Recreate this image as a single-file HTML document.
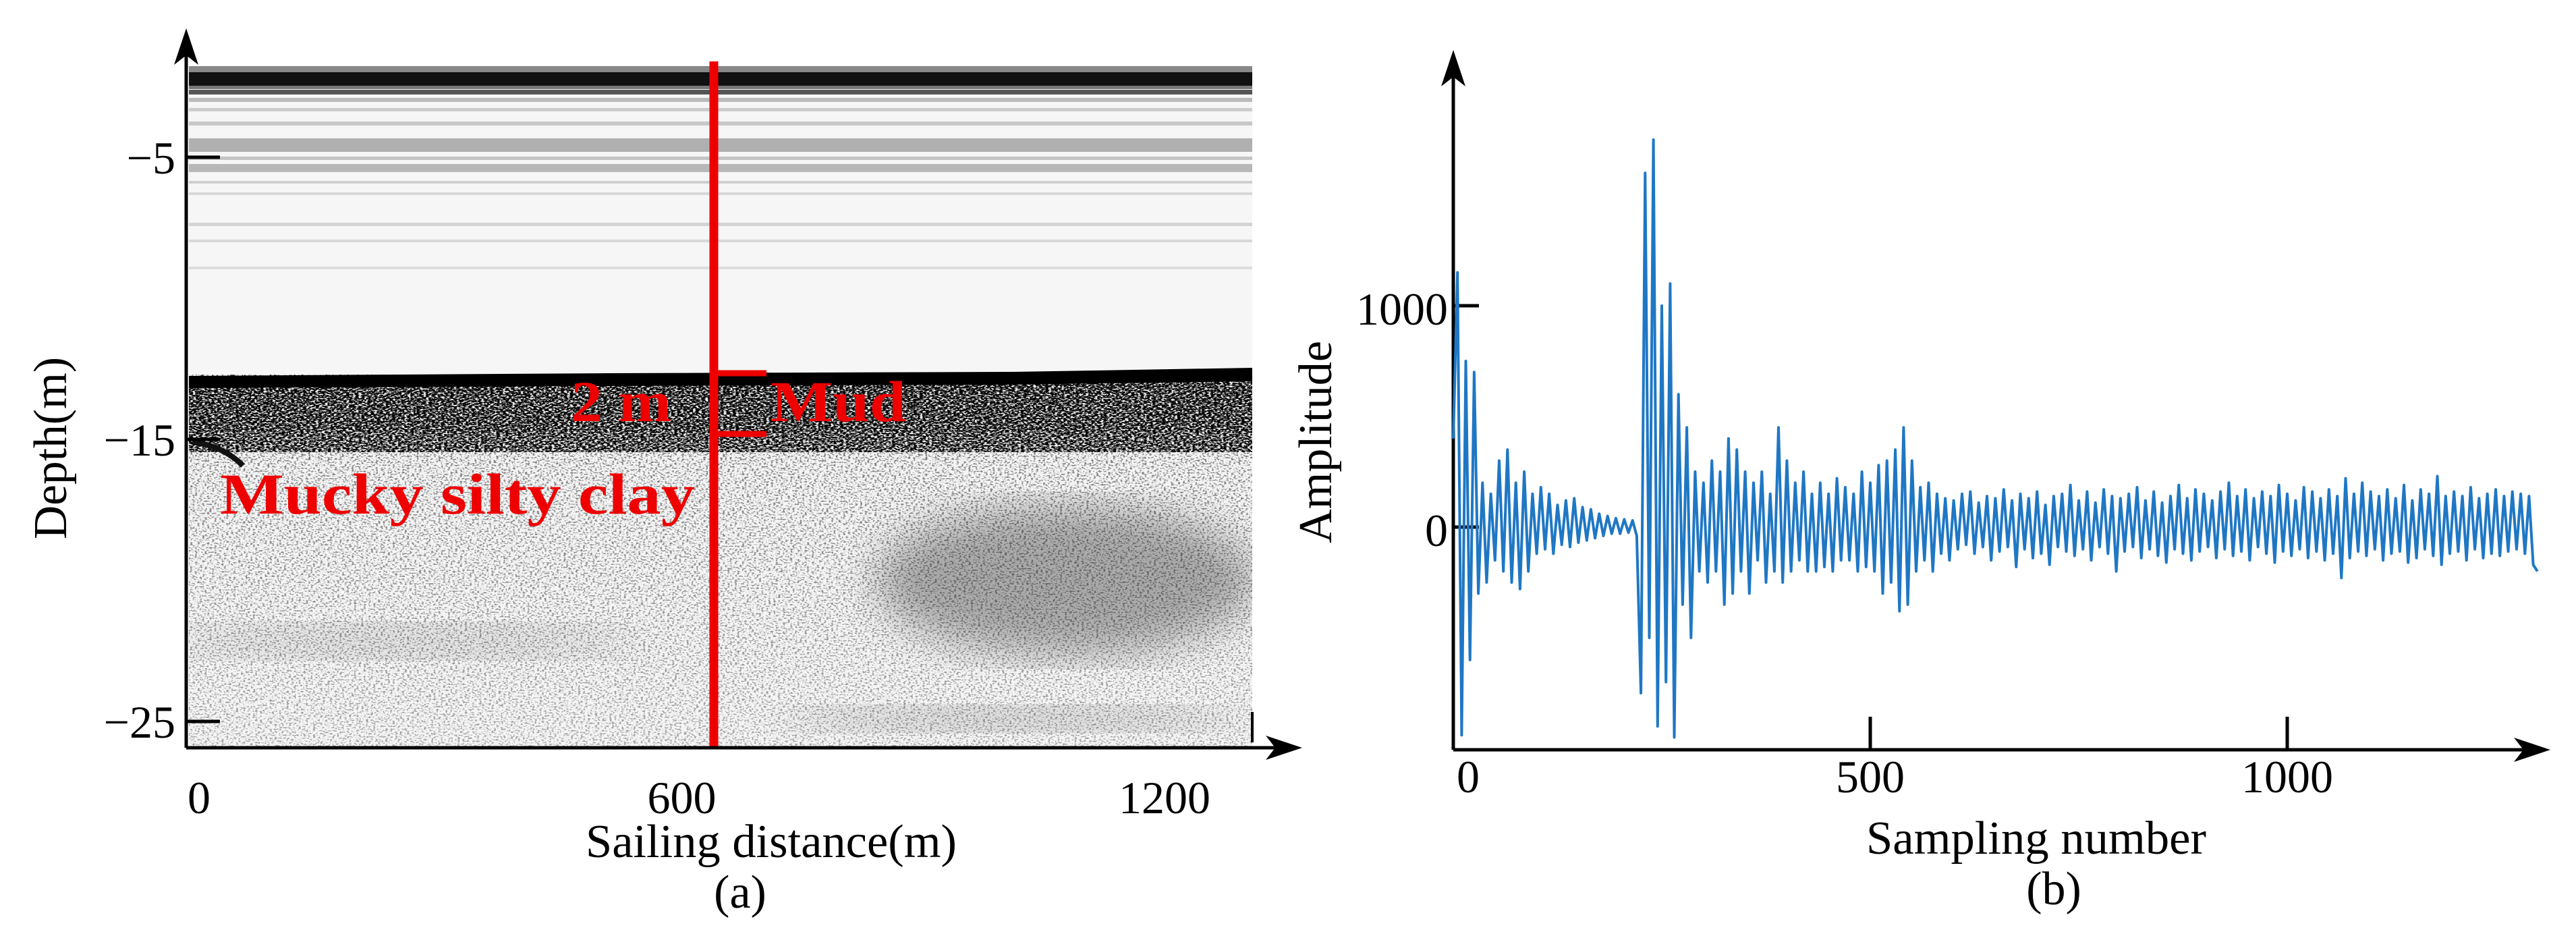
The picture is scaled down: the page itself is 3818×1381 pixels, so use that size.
<!DOCTYPE html>
<html><head><meta charset="utf-8"><style>
html,body{margin:0;padding:0;background:#fff;width:3818px;height:1381px;overflow:hidden}
svg{display:block;font-family:"Liberation Serif",serif}
</style></head><body>
<svg id="fig" width="3818" height="1381" viewBox="0 0 3818 1381" xmlns="http://www.w3.org/2000/svg">
<defs>
<filter id="nz" x="0" y="0" width="100%" height="100%">
<feTurbulence type="fractalNoise" baseFrequency="0.28 0.45" numOctaves="2" seed="3"/>
<feColorMatrix type="matrix" values="0 0 0 0 0  0 0 0 0 0  0 0 0 0 0  5 0 0 0 -2.5"/>
</filter>
<filter id="nz2" x="0" y="0" width="100%" height="100%">
<feTurbulence type="fractalNoise" baseFrequency="0.22 0.5" numOctaves="2" seed="9"/>
<feColorMatrix type="matrix" values="0 0 0 0 0  0 0 0 0 0  0 0 0 0 0  6 0 0 0 -2.4"/>
</filter>
<filter id="blur8"><feGaussianBlur stdDeviation="30"/></filter>
<linearGradient id="fadeDown" x1="0" y1="0" x2="0" y2="1">
<stop offset="0" stop-color="#fff" stop-opacity="0.9"/>
<stop offset="0.25" stop-color="#fff" stop-opacity="0.5"/>
<stop offset="1" stop-color="#fff" stop-opacity="0.35"/>
</linearGradient>
<mask id="lowerMask"><rect x="280" y="555" width="1576" height="553" fill="url(#fadeDown)"/></mask>
<clipPath id="imgClip"><rect x="280" y="97" width="1576" height="1011"/></clipPath>
</defs>

<g clip-path="url(#imgClip)">
<rect x="280" y="97" width="1576" height="1011" fill="#f6f6f6"/>
<rect x="280" y="98" width="1576" height="9" fill="#888"/>
<rect x="280" y="107" width="1576" height="20" fill="#111"/>
<rect x="280" y="127" width="1576" height="5" fill="#777"/>
<rect x="280" y="133" width="1576" height="7" fill="#555"/>
<rect x="280" y="145" width="1576" height="6" fill="#bbb"/>
<rect x="280" y="160" width="1576" height="5" fill="#ccc"/>
<rect x="280" y="180" width="1576" height="6" fill="#c8c8c8"/>
<rect x="280" y="205" width="1576" height="20" fill="#b0b0b0"/>
<rect x="280" y="232" width="1576" height="5" fill="#c4c4c4"/>
<rect x="280" y="243" width="1576" height="12" fill="#b8b8b8"/>
<rect x="280" y="268" width="1576" height="4" fill="#d0d0d0"/>
<rect x="280" y="285" width="1576" height="4" fill="#d8d8d8"/>
<rect x="280" y="330" width="1576" height="5" fill="#d4d4d4"/>
<rect x="280" y="355" width="1576" height="4" fill="#d8d8d8"/>
<rect x="280" y="395" width="1576" height="4" fill="#dddddd"/>
<g mask="url(#lowerMask)"><rect x="280" y="555" width="1576" height="553" filter="url(#nz)"/></g>
<rect x="280" y="560" width="1576" height="110" filter="url(#nz2)"/>
<rect x="280" y="560" width="1576" height="80" filter="url(#nz2)" opacity="0.6"/>
<polygon points="280,557 900,553 1500,551 1856,545 1856,565 1500,570 900,572 280,575" fill="#000"/>
<ellipse cx="1580" cy="860" rx="280" ry="110" fill="#000" opacity="0.3" filter="url(#blur8)"/>
<ellipse cx="1500" cy="1065" rx="340" ry="18" fill="#000" opacity="0.2" filter="url(#blur8)"/>
<ellipse cx="600" cy="950" rx="350" ry="25" fill="#000" opacity="0.12" filter="url(#blur8)"/>
<path d="M285,655 Q330,660 360,690" stroke="#111" stroke-width="8" fill="none"/>
</g>

<line x1="1058" y1="91" x2="1058" y2="1108" stroke="#ee0000" stroke-width="13"/>
<path d="M1058,553 H1136 M1058,643 H1136" stroke="#ee0000" stroke-width="9" fill="none"/>
<text x="846" y="624" font-size="86" font-weight="bold" fill="#ee0000" textLength="149" lengthAdjust="spacingAndGlyphs">2 m</text>
<text x="1142" y="624" font-size="86" font-weight="bold" fill="#ee0000" textLength="201" lengthAdjust="spacingAndGlyphs">Mud</text>
<text x="326" y="761" font-size="86" font-weight="bold" fill="#ee0000" textLength="704" lengthAdjust="spacingAndGlyphs">Mucky silty clay</text>

<g id="axesA"></g>
<g id="axesB"></g>

<text x="1143" y="1270" font-size="70" text-anchor="middle" textLength="550" lengthAdjust="spacingAndGlyphs">Sailing distance(m)</text>
<text x="1097" y="1345" font-size="70" text-anchor="middle">(a)</text>
<text transform="translate(98,664) rotate(-90)" font-size="70" text-anchor="middle" textLength="270" lengthAdjust="spacingAndGlyphs">Depth(m)</text>
<text x="3018" y="1265" font-size="70" text-anchor="middle" textLength="504" lengthAdjust="spacingAndGlyphs">Sampling number</text>
<text x="3044" y="1340" font-size="70" text-anchor="middle">(b)</text>
<text transform="translate(1973,655) rotate(-90)" font-size="70" text-anchor="middle" textLength="300" lengthAdjust="spacingAndGlyphs">Amplitude</text>
</svg>
<script>
const depthTicks = [-5, -15, -25];
const depthTickLabels = ["\u22125", "\u221215", "\u221225"];
const distTicks = [0, 600, 1200];
const distTickLabels = ["0", "600", "1200"];
const sampleStep = 5;
const amplitude = [
400,1150,-940,750,-600,700,-300,200,-250,150,-150,300,-200,350,-250,200,-280,250,-200,150,
-120,180,-100,150,-120,100,-80,120,-90,130,-70,90,-60,80,-50,60,-40,50,-30,40,
-30,35,-25,30,-40,-750,1600,-500,1750,-900,1000,-700,1100,-950,600,-350,450,-500,250,-200,
200,-250,300,-200,250,-350,400,-300,350,-200,250,-300,200,-150,250,-250,150,-200,450,-250,
300,-200,200,-150,250,-200,150,-200,200,-180,150,-200,220,-150,180,-150,150,-200,250,-180,
200,-200,280,-300,300,-250,350,-380,450,-350,300,-200,180,-150,200,-200,150,-120,130,-150,
120,-100,150,-80,160,-120,110,-90,140,-150,
130,-110,170,-90,120,-180,150,-100,130,-140,
160,-120,100,-170,140,-90,150,-110,190,-130,
120,-100,160,-150,110,-90,170,-120,140,-200,
130,-110,150,-90,180,-140,120,-100,160,-130,
110,-160,140,-100,190,-120,130,-150,170,-110,
150,-90,120,-140,160,-100,200,-130,140,-110,
170,-150,130,-90,160,-120,140,-160,190,-110,
150,-130,120,-100,180,-140,160,-110,130,-150,
170,-120,140,-230,220,-140,150,-110,200,-130,
160,-100,140,-150,170,-120,130,-110,190,-160,
120,-140,170,-100,150,-130,230,-170,140,-120,
160,-110,140,-150,180,-100,130,-140,150,-120,
170,-130,140,-110,160,-100,150,-120,140,-170,
-200];
const ampTicks = [0, 1000];
const ampTickLabels = ["0", "1000"];
const sampleTicks = [0, 500, 1000];
const sampleTickLabels = ["0", "500", "1000"];

const NS = "http://www.w3.org/2000/svg";
function mk(tag, attrs, parent){const e=document.createElementNS(NS,tag);for(const k in attrs)e.setAttribute(k,attrs[k]);parent.appendChild(e);return e;}

const yA = d => 233 + (d - (-5)) * (1069 - 233) / (-20);
const xA = v => 295 + v * (1726 - 295) / 1200;
const xB = s => 2154 + s * 1.236;
const yB = a => 781 - a * 0.328;

const gA = document.getElementById('axesA');
const gB = document.getElementById('axesB');

let e;
e = mk('line',{x1:276,y1:1108,x2:276,y2:60,stroke:'#000','stroke-width':5},gA);


e = mk('polygon',{points:'276,42 258,96 276,82 294,96',fill:'#000'},gA);


e = mk('line',{x1:276,y1:1108,x2:1910,y2:1108,stroke:'#000','stroke-width':5},gA);


e = mk('polygon',{points:'1930,1108 1876,1090 1890,1108 1876,1126',fill:'#000'},gA);


e = mk('line',{x1:1856,y1:1055,x2:1856,y2:1100,stroke:'#000','stroke-width':4},gA);


depthTicks.forEach((d,i)=>{
  const t = mk('line',{x1:276,y1:yA(d),x2:326,y2:yA(d),stroke:'#000','stroke-width':5},gA);
  
  
  const l = mk('text',{x:260,y:yA(d)+24,'font-size':68,'text-anchor':'end'},gA);
  l.textContent = depthTickLabels[i];
  
  
});
distTicks.forEach((v,i)=>{
  const l = mk('text',{x:xA(v),y:1205,'font-size':68,'text-anchor':'middle'},gA);
  l.textContent = distTickLabels[i];
  
  
});

e = mk('line',{x1:2154,y1:1111,x2:2154,y2:95,stroke:'#000','stroke-width':5},gB);


e = mk('polygon',{points:'2154,74 2136,128 2154,114 2172,128',fill:'#000'},gB);


e = mk('line',{x1:2154,y1:1111,x2:3760,y2:1111,stroke:'#000','stroke-width':5},gB);


e = mk('polygon',{points:'3780,1111 3726,1093 3740,1111 3726,1129',fill:'#000'},gB);


ampTicks.forEach((a,i)=>{
  const t = mk('line',{x1:2154,y1:yB(a),x2:2192,y2:yB(a),stroke:'#000','stroke-width':5},gB);
  
  
  const l = mk('text',{x:2146,y:yB(a)+28,'font-size':68,'text-anchor':'end'},gB);
  l.textContent = ampTickLabels[i];
  
  
});
sampleTicks.forEach((s,i)=>{
  if(s>0){
    const t = mk('line',{x1:xB(s),y1:1062,x2:xB(s),y2:1111,stroke:'#000','stroke-width':5},gB);
    
    
  }
  const l = mk('text',{x:xB(s)+(s===0?22:0),y:1174,'font-size':68,'text-anchor':'middle'},gB);
  l.textContent = sampleTickLabels[i];
  
  
});
const pts = amplitude.map((a,i)=>xB(i*sampleStep).toFixed(1)+','+yB(a).toFixed(1)).join(' ');
const line = mk('polyline',{points:pts,fill:'none',stroke:'#1f77c4','stroke-width':4,'stroke-linejoin':'round'},gB);


</script>
</body></html>
